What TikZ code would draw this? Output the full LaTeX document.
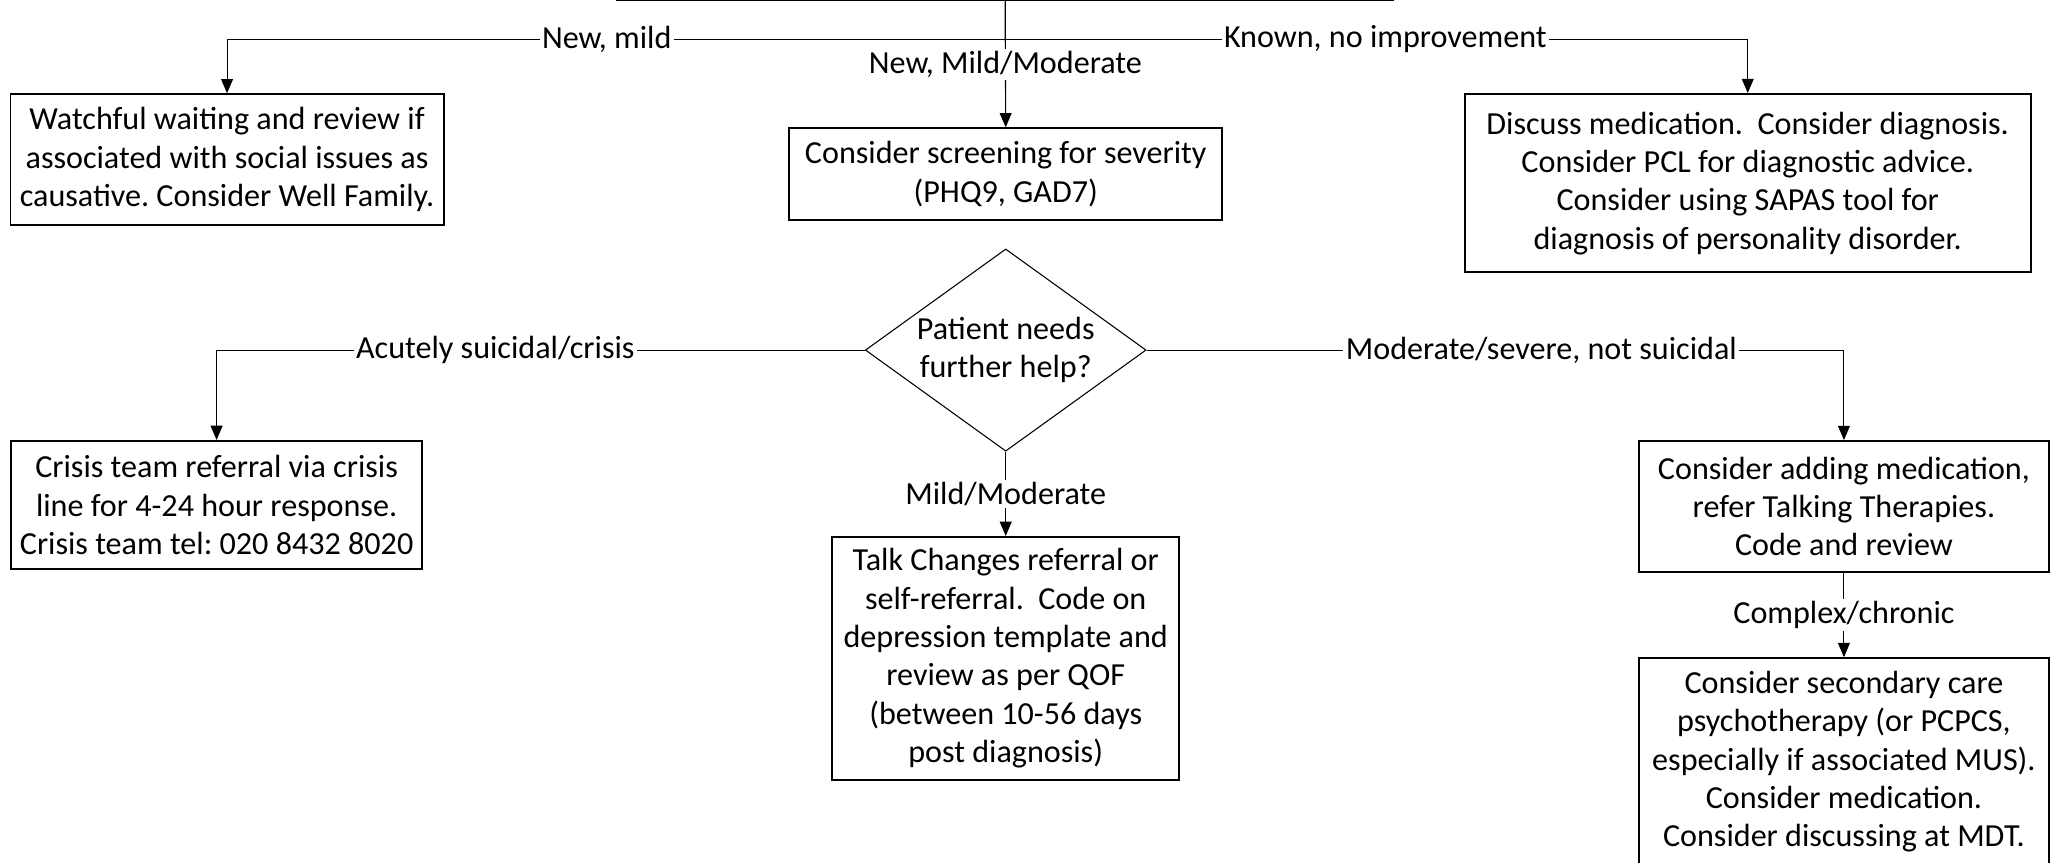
\documentclass[tikz,border=0pt]{standalone}
\usepackage{fontspec}
\setmainfont{Carlito}
\usepackage{tikz}
\usetikzlibrary{arrows.meta, shapes.geometric}
\frenchspacing

\begin{document}
\begin{tikzpicture}[x = 0.55pt, y = -0.55pt, line width = 0.45pt,
  >={Triangle[length=6pt, width=5pt]},
  every node/.style = {font=\fontsize{13.5}{16.1}\selectfont},
  box/.style = {draw, line width=0.8pt, align=center, inner sep=0pt},
  lbl/.style = {fill=white, inner sep=1pt}]
\useasboundingbox (0,0) rectangle (1568,659);
\node[box, minimum width=326pt, minimum height=30pt, anchor=south] (start) at (768,1) {};
\node[box, minimum width=182pt, minimum height=55pt] (watch) at (173.5,122) {Watchful waiting and review if\\associated with social issues as\\causative. Consider Well Family.};
\node[box, minimum width=182pt, minimum height=38.5pt] (screen) at (768.5,133) {Consider screening for severity\\(PHQ9, GAD7)};
\node[box, minimum width=238pt, minimum height=75pt] (discuss) at (1335.5,140) {Discuss medication.\ \ Consider diagnosis.\\Consider PCL for diagnostic advice.\\Consider using SAPAS tool for\\diagnosis of personality disorder.};
\node[diamond, draw, aspect=1.39, minimum width=118pt, minimum height=85pt, inner sep=0pt, align=center] (help) at (768.5,267.5) {Patient needs\\further help?};
\node[box, minimum width=173pt, minimum height=54pt] (crisis) at (165.5,386) {Crisis team referral via crisis\\line for 4-24 hour response.\\Crisis team tel: 020 8432 8020};
\node[box, minimum width=172pt, minimum height=55pt] (medic) at (1409,387) {Consider adding medication,\\refer Talking Therapies.\\Code and review};
\node[box, minimum width=146pt, minimum height=102pt] (talk) at (768.5,503) {Talk Changes referral or\\self-referral.\ \ Code on\\depression template and\\review as per QOF\\(between 10-56 days\\post diagnosis)};
\node[box, minimum width=172pt, minimum height=87pt] (second) at (1409,582) {Consider secondary care\\psychotherapy (or PCPCS,\\especially if associated MUS).\\Consider medication.\\Consider discussing at MDT.};

\coordinate (split) at (768,30);
\draw (start.south) -- (split);
\draw[->] (split) -| node[lbl, pos=0.256] {New, mild} (watch.north);
\draw[->] (split) -| node[lbl, pos=0.256] {Known, no improvement} (discuss.north);
\draw[->] (start.south) -- node[lbl] {New, Mild/Moderate} (screen.north);
\draw[->] (help.west) -| node[lbl, pos=0.285] {Acutely suicidal/crisis} (crisis.north);
\draw[->] (help.east) -| node[lbl, pos=0.283] {Moderate/severe, not suicidal} (medic.north);
\draw[->] (help.south) -- node[lbl] {Mild/Moderate} (talk.north);
\draw[->] (medic.south) -- node[lbl] {Complex/chronic} (second.north);
\end{tikzpicture}
\end{document}
